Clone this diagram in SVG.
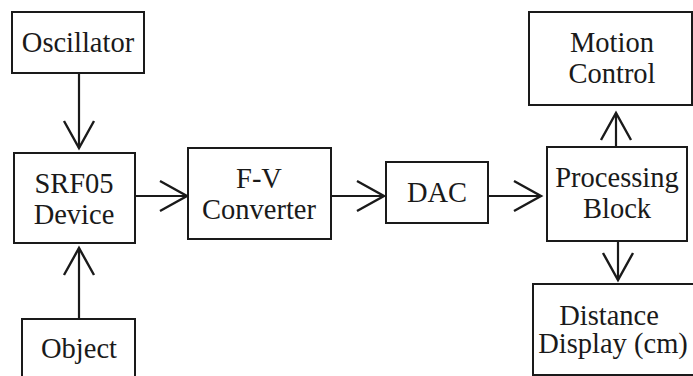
<svg xmlns="http://www.w3.org/2000/svg" width="693" height="376" viewBox="0 0 693 376">
<style>
.box{fill:#fff;stroke:#1a1a1a;stroke-width:2}
.lbl{font-family:'Liberation Serif','Times New Roman',serif;font-size:28.5px;fill:#1a1a1a;text-anchor:middle}
.conn{stroke:#1a1a1a;stroke-width:2.2;fill:none}
</style>
<defs>
<marker id="arr" markerUnits="userSpaceOnUse" markerWidth="40" markerHeight="40" viewBox="-30 -20 40 40" refX="0" refY="0" orient="auto">
<path d="M-27,-15 L0,0 L-27,15" fill="none" stroke="#1a1a1a" stroke-width="2.4"/>
</marker>
</defs>
<rect width="693" height="376" fill="#fff"/>
<g id="connectors">
<line class="conn" x1="79" y1="73" x2="79" y2="148" marker-end="url(#arr)"/>
<line class="conn" x1="79" y1="319" x2="79" y2="248" marker-end="url(#arr)"/>
<line class="conn" x1="135" y1="196" x2="187" y2="196" marker-end="url(#arr)"/>
<line class="conn" x1="331" y1="196" x2="384" y2="196" marker-end="url(#arr)"/>
<line class="conn" x1="488" y1="196" x2="541" y2="196" marker-end="url(#arr)"/>
<line class="conn" x1="616" y1="147" x2="616" y2="113" marker-end="url(#arr)"/>
<line class="conn" x1="618" y1="241" x2="618" y2="280" marker-end="url(#arr)"/>
</g>
<g id="oscillator">
<rect class="box" x="12" y="12" width="132" height="61"/>
<text class="lbl" x="78" y="52">Oscillator</text>
</g>
<g id="srf05">
<rect class="box" x="14" y="153" width="121" height="90"/>
<text class="lbl" x="74" y="193">SRF05</text>
<text class="lbl" x="74" y="224">Device</text>
</g>
<g id="object">
<rect class="box" x="22" y="319" width="113" height="70"/>
<text class="lbl" x="79" y="358">Object</text>
</g>
<g id="fv">
<rect class="box" x="188" y="148" width="143" height="91"/>
<text class="lbl" x="259" y="188">F-V</text>
<text class="lbl" x="259" y="219">Converter</text>
</g>
<g id="dac">
<rect class="box" x="386" y="162" width="102" height="61"/>
<text class="lbl" x="437" y="202">DAC</text>
</g>
<g id="processing">
<rect class="box" x="547" y="147" width="140" height="94"/>
<text class="lbl" x="617" y="187">Processing</text>
<text class="lbl" x="617" y="218">Block</text>
</g>
<g id="motion">
<rect class="box" x="529" y="12" width="163" height="93"/>
<text class="lbl" x="612" y="52">Motion</text>
<text class="lbl" x="612" y="83">Control</text>
</g>
<g id="distance">
<rect class="box" x="533" y="284" width="165" height="91"/>
<text class="lbl" x="609" y="325">Distance</text>
<text class="lbl" x="613" y="353">Display (cm)</text>
</g>
</svg>
